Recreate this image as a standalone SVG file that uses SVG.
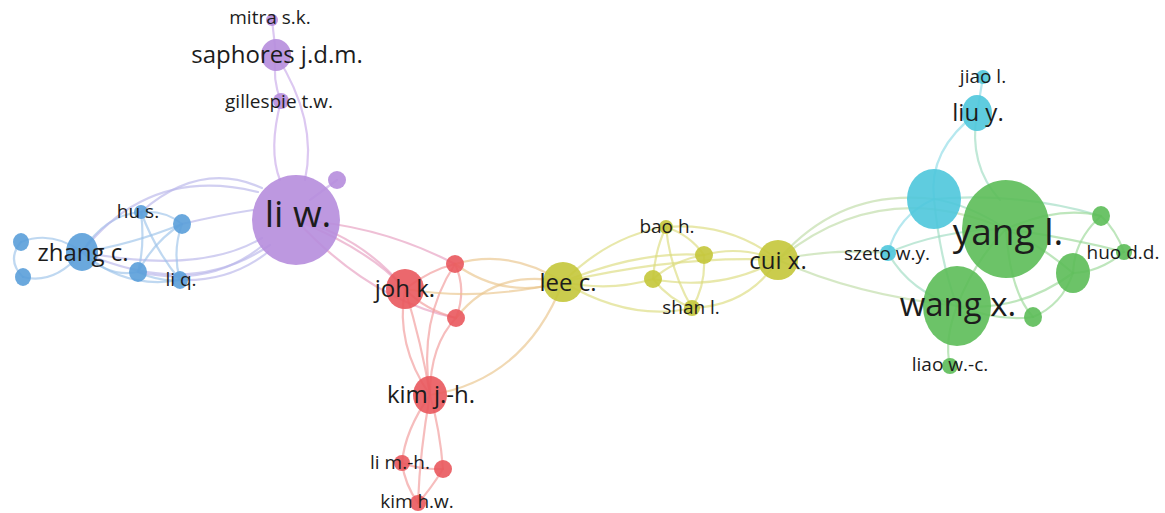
<svg xmlns="http://www.w3.org/2000/svg" width="1165" height="513" viewBox="0 0 1165 513">
<style>
.e{fill:none;stroke-width:2.2;stroke-opacity:0.65;stroke-linecap:round}
.eb{stroke:#9cc3ea}.ebp{stroke:#b9b6ea}.ep{stroke:#c9aae9}.epr{stroke:#e69ec0}.er{stroke:#f19a9a}
.ery{stroke:#e9c48c}.ey{stroke:#dcdc7e}.eyg{stroke:#bfdca6}.ec{stroke:#8fdbe6}.ecg{stroke:#9edcc2}.eg{stroke:#9bd998}
.n{fill-opacity:0.9}
.np{fill:#b68ddd}.nb{fill:#5a9fd9}.nr{fill:#e9585d}.ny{fill:#c4c63a}.nc{fill:#4ec7dc}.ng{fill:#5cbd58}
text{font-family:"Open Sans","Liberation Sans",sans-serif;fill:#1c1c1c;text-anchor:middle}
.s{font-size:19px}.m{font-size:24px}.l{font-size:24px}.xl{font-size:33px}.xxl{font-size:37px}
</style>
<g id="connectors">
<path class="e eb" d="M21 242 Q52 230 82 252"/>
<path class="e eb" d="M23 277 Q55 285 82 252"/>
<path class="e eb" d="M21 242 Q6 260 23 277"/>
<path class="e eb" d="M82 252 Q105 215 141 212"/>
<path class="e eb" d="M82 252 Q130 245 182 224"/>
<path class="e eb" d="M82 252 Q108 278 138 272"/>
<path class="e eb" d="M82 252 Q125 290 180 280"/>
<path class="e ebp" d="M82 252 Q190 300 270 245"/>
<path class="e ebp" d="M82 252 Q200 275 262 238"/>
<path class="e ebp" d="M82 252 Q150 165 258 192"/>
<path class="e eb" d="M141 212 Q165 210 182 224"/>
<path class="e eb" d="M141 212 Q145 245 138 272"/>
<path class="e eb" d="M141 212 Q155 250 180 280"/>
<path class="e ebp" d="M141 212 Q200 160 262 188"/>
<path class="e eb" d="M182 224 Q155 240 138 272"/>
<path class="e eb" d="M182 224 Q172 252 180 280"/>
<path class="e ebp" d="M182 224 Q220 215 253 210"/>
<path class="e eb" d="M138 272 Q160 282 180 280"/>
<path class="e ebp" d="M138 272 Q210 288 262 246"/>
<path class="e ebp" d="M180 280 Q230 282 268 252"/>
<path class="e ep" d="M272 20 L276 55"/>
<path class="e ep" d="M276 55 Q272 80 281 101"/>
<path class="e ep" d="M276 55 Q318 120 305 180"/>
<path class="e ep" d="M281 101 Q268 150 280 180"/>
<path class="e ep" d="M337 180 L310 200"/>
<path class="e epr" d="M296 220 Q360 235 405 289"/>
<path class="e epr" d="M296 220 Q370 250 405 289"/>
<path class="e epr" d="M296 220 Q380 225 455 264"/>
<path class="e epr" d="M296 220 Q370 300 456 318"/>
<path class="e er" d="M405 289 Q430 270 455 264"/>
<path class="e er" d="M405 289 Q425 310 456 318"/>
<path class="e er" d="M455 264 Q467 290 456 318"/>
<path class="e er" d="M405 289 Q395 345 430 395"/>
<path class="e er" d="M405 289 Q422 345 430 395"/>
<path class="e er" d="M455 264 Q418 320 430 395"/>
<path class="e er" d="M456 318 Q430 345 430 395"/>
<path class="e ery" d="M405 289 Q480 302 563 282"/>
<path class="e ery" d="M455 264 Q510 248 563 282"/>
<path class="e ery" d="M455 264 Q505 300 563 282"/>
<path class="e ery" d="M456 318 Q495 268 563 282"/>
<path class="e ery" d="M430 395 Q525 380 563 282"/>
<path class="e er" d="M430 395 Q405 430 402 463"/>
<path class="e er" d="M430 395 Q440 430 443 469"/>
<path class="e er" d="M430 395 Q420 450 418 503"/>
<path class="e er" d="M402 463 Q422 470 443 469"/>
<path class="e er" d="M402 463 Q405 485 418 503"/>
<path class="e er" d="M443 469 Q430 490 418 503"/>
<path class="e ey" d="M563 282 Q610 235 666 227"/>
<path class="e ey" d="M563 282 Q640 250 704 255"/>
<path class="e ey" d="M563 282 Q610 292 653 279"/>
<path class="e ey" d="M563 282 Q680 255 778 260"/>
<path class="e ey" d="M563 282 Q630 322 692 308"/>
<path class="e ey" d="M666 227 Q690 235 704 255"/>
<path class="e ey" d="M666 227 Q655 250 653 279"/>
<path class="e ey" d="M666 227 Q670 270 692 308"/>
<path class="e ey" d="M666 227 Q730 222 778 260"/>
<path class="e ey" d="M704 255 Q675 260 653 279"/>
<path class="e ey" d="M704 255 Q706 285 692 308"/>
<path class="e ey" d="M704 255 Q740 245 778 260"/>
<path class="e ey" d="M653 279 Q670 300 692 308"/>
<path class="e ey" d="M653 279 Q720 292 778 260"/>
<path class="e ey" d="M692 308 Q748 306 778 260"/>
<path class="e eyg" d="M778 260 Q840 188 934 199"/>
<path class="e eyg" d="M778 260 Q880 175 1006 229"/>
<path class="e eyg" d="M778 260 Q830 248 888 253"/>
<path class="e eyg" d="M778 260 Q855 295 957 306"/>
<path class="e ec" d="M983 77 L977 113"/>
<path class="e ec" d="M977 113 Q928 150 934 199"/>
<path class="e ecg" d="M977 113 Q968 165 1000 200"/>
<path class="e ecg" d="M934 199 Q970 205 1006 229"/>
<path class="e ecg" d="M934 199 Q1020 192 1101 216"/>
<path class="e ecg" d="M934 199 Q940 260 957 306"/>
<path class="e ec" d="M934 199 Q898 215 888 253"/>
<path class="e ecg" d="M888 253 Q910 292 957 306"/>
<path class="e ecg" d="M888 253 Q940 230 1006 229"/>
<path class="e eg" d="M1006 229 Q975 260 957 306"/>
<path class="e eg" d="M1006 229 Q1060 205 1101 216"/>
<path class="e eg" d="M1006 229 Q1070 238 1124 252"/>
<path class="e eg" d="M1006 229 Q1040 245 1073 273"/>
<path class="e eg" d="M1006 229 Q1010 292 1033 317"/>
<path class="e eg" d="M957 306 Q1020 312 1073 273"/>
<path class="e eg" d="M957 306 Q1000 322 1033 317"/>
<path class="e eg" d="M957 306 Q944 340 950 366"/>
<path class="e eg" d="M1101 216 Q1116 230 1124 252"/>
<path class="e eg" d="M1101 216 Q1074 240 1073 273"/>
<path class="e eg" d="M1124 252 Q1100 272 1073 273"/>
<path class="e eg" d="M1033 317 Q1062 305 1073 273"/>
</g>
<g id="n-p5"><circle class="n np" cx="337" cy="180" r="9"/></g>
<g id="n-mitra"><circle class="n np" cx="272" cy="20" r="6"/><text class="s" x="270" y="24">mitra s.k.</text></g>
<g id="n-saphores"><ellipse class="n np" cx="276" cy="55" rx="15" ry="16"/><text class="l" x="277" y="63">saphores j.d.m.</text></g>
<g id="n-gillespie"><circle class="n np" cx="281" cy="101" r="8"/><text class="s" x="279" y="108">gillespie t.w.</text></g>
<g id="n-liw"><ellipse class="n np" cx="296" cy="220" rx="44" ry="45"/><text class="xxl" x="298" y="227">li w.</text></g>
<g id="n-b2"><ellipse class="n nb" cx="21" cy="242" rx="8" ry="9"/></g>
<g id="n-b3"><ellipse class="n nb" cx="23" cy="277" rx="8" ry="9"/></g>
<g id="n-zhang"><ellipse class="n nb" cx="82" cy="252" rx="16" ry="19"/><text class="l" x="83" y="261">zhang c.</text></g>
<g id="n-hus"><circle class="n nb" cx="141" cy="212" r="7"/><text class="s" x="138" y="218">hu s.</text></g>
<g id="n-b5"><ellipse class="n nb" cx="182" cy="224" rx="9" ry="10"/></g>
<g id="n-b6"><ellipse class="n nb" cx="138" cy="272" rx="9" ry="10"/></g>
<g id="n-liq"><ellipse class="n nb" cx="180" cy="280" rx="8" ry="9"/><text class="s" x="181" y="286">li q.</text></g>
<g id="n-r2"><circle class="n nr" cx="455" cy="264" r="9"/></g>
<g id="n-r3"><circle class="n nr" cx="456" cy="318" r="9"/></g>
<g id="n-johk"><ellipse class="n nr" cx="405" cy="289" rx="19" ry="20"/><text class="m" x="405" y="297">joh k.</text></g>
<g id="n-kimjh"><ellipse class="n nr" cx="430" cy="395" rx="17" ry="19"/><text class="m" x="431" y="403">kim j.-h.</text></g>
<g id="n-r6"><circle class="n nr" cx="443" cy="469" r="9"/></g>
<g id="n-limh"><circle class="n nr" cx="402" cy="463" r="8"/><text class="s" x="400" y="469">li m.-h.</text></g>
<g id="n-kimhw"><circle class="n nr" cx="418" cy="503" r="8"/><text class="s" x="417" y="508">kim h.w.</text></g>
<g id="n-leec"><ellipse class="n ny" cx="563" cy="282" rx="20" ry="20"/><text class="m" x="568" y="291">lee c.</text></g>
<g id="n-bao"><circle class="n ny" cx="666" cy="227" r="7"/><text class="s" x="667" y="233">bao h.</text></g>
<g id="n-y3"><circle class="n ny" cx="704" cy="255" r="9"/></g>
<g id="n-y4"><circle class="n ny" cx="653" cy="279" r="9"/></g>
<g id="n-shan"><circle class="n ny" cx="692" cy="308" r="8"/><text class="s" x="691" y="314">shan l.</text></g>
<g id="n-cui"><ellipse class="n ny" cx="778" cy="260" rx="20" ry="20"/><text class="m" x="778" y="269">cui x.</text></g>
<g id="n-jiao"><circle class="n nc" cx="983" cy="77" r="7"/><text class="s" x="983" y="83">jiao l.</text></g>
<g id="n-liuy"><ellipse class="n nc" cx="977" cy="113" rx="15" ry="18"/><text class="m" x="978" y="121">liu y.</text></g>
<g id="n-c3"><ellipse class="n nc" cx="934" cy="199" rx="27" ry="30"/></g>
<g id="n-szeto"><circle class="n nc" cx="888" cy="253" r="8"/><text class="s" x="887" y="260">szeto w.y.</text></g>
<g id="n-g3"><ellipse class="n ng" cx="1101" cy="216" rx="9" ry="10"/></g>
<g id="n-huo"><circle class="n ng" cx="1124" cy="252" r="8"/><text class="s" x="1123" y="259">huo d.d.</text></g>
<g id="n-g5"><ellipse class="n ng" cx="1073" cy="273" rx="17" ry="20"/></g>
<g id="n-g6"><ellipse class="n ng" cx="1033" cy="317" rx="9" ry="10"/></g>
<g id="n-liao"><circle class="n ng" cx="950" cy="366" r="8"/><text class="s" x="950" y="371">liao w.-c.</text></g>
<g id="n-wang"><ellipse class="n ng" cx="957" cy="306" rx="34" ry="40"/><text class="xl" x="958" y="316">wang x.</text></g>
<g id="n-yang"><ellipse class="n ng" cx="1006" cy="229" rx="44" ry="49"/><text class="xxl" x="1008" y="245">yang l.</text></g>
</svg>
